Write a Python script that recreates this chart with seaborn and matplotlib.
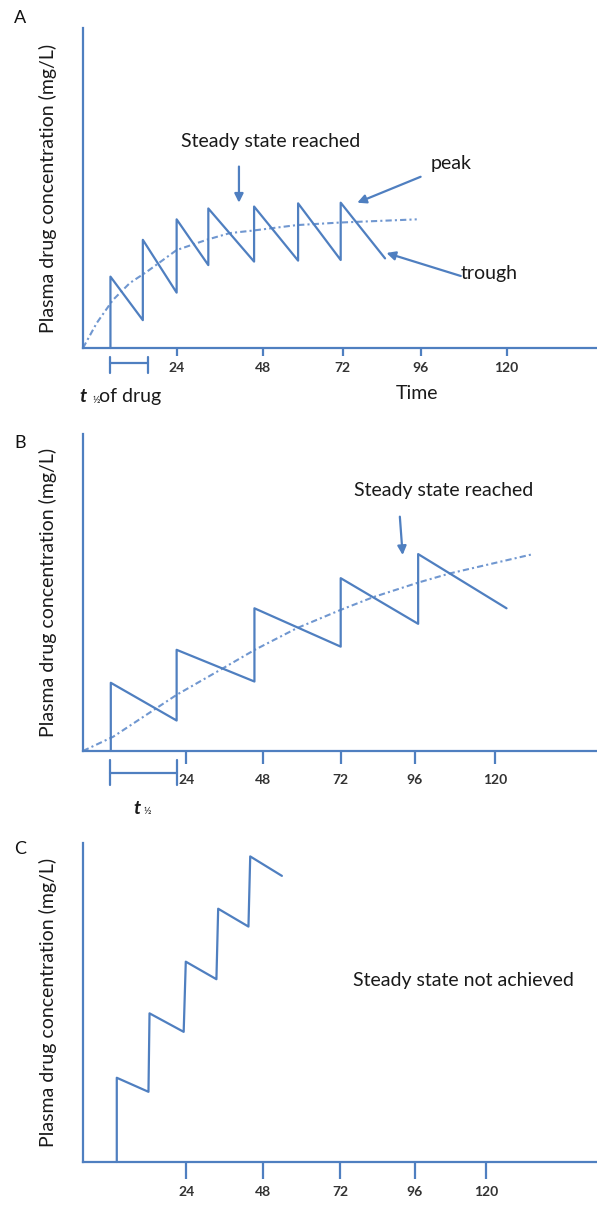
import matplotlib
matplotlib.use("Agg")
import matplotlib.pyplot as plt
import seaborn as sns

# x in hours (schematic), y in % of axis height
tick_labels = ["24", "48", "72", "96", "120"]

# A: dosing interval shorter than half-life -> steady state reached fast
a_ticks = [26.6, 51.0, 73.8, 95.9, 120.3]
a_saw_x = [7.8, 7.8, 17.0, 17.0, 26.6, 26.6, 35.6, 35.6, 48.6, 48.6, 61.1, 61.1, 73.2, 73.2, 85.8]
a_saw_y = [0, 22.3, 8.7, 33.8, 17.3, 40.2, 25.9, 43.6, 27.0, 44.2, 27.3, 45.2, 27.5, 45.4, 28.0]
a_avg_x = [0, 3.9, 8.5, 13.3, 18.1, 26.6, 35.1, 41.7, 48.3, 60.7, 73.0, 94.8]
a_avg_y = [0, 7.8, 15.0, 20.3, 23.8, 30.6, 33.8, 35.9, 36.7, 38.4, 39.2, 40.2]

# B: dosing interval equal to half-life
b_ticks = [29.4, 51.0, 73.2, 94.3, 117.0]
b_saw_x = [7.9, 7.9, 26.6, 26.6, 48.7, 48.7, 73.2, 73.2, 95.2, 95.2, 120.3]
b_saw_y = [0, 21.5, 9.6, 31.9, 21.9, 45.0, 32.9, 54.5, 40.1, 62.1, 45.0]
b_avg_x = [0, 8.6, 26.6, 39.8, 48.8, 60.7, 73.2, 82.4, 95.2, 104.2, 127.9]
b_avg_y = [0, 4.5, 17.7, 26.1, 31.9, 38.7, 44.5, 48.5, 53.1, 56.0, 62.1]

# C: long half-life, no steady state
c_ticks = [29.4, 51.0, 73.0, 94.3, 114.6]
c_saw_x = [9.6, 9.6, 18.6, 18.9, 28.6, 29.2, 37.9, 38.4, 47.0, 47.5, 56.5]
c_saw_y = [0, 26.4, 22.0, 46.6, 40.8, 62.8, 57.3, 79.4, 73.8, 95.8, 89.7]

BLUE = "#4f7fc0"
LIGHT = "#7097d0"
TXT = "#1a1a1a"
FS = 14

sns.set_theme(style="white")
plt.rcParams["font.family"] = ["Lato", "DejaVu Sans"]

fig = plt.figure(figsize=(5.97, 12.05), dpi=100)
axA = fig.add_axes([0.139, 0.7112, 0.861, 0.2656])
axB = fig.add_axes([0.139, 0.3768, 0.861, 0.2631])
axC = fig.add_axes([0.139, 0.0357, 0.861, 0.2647])


def style_axis(ax, ticks, tick_len, pad):
    ax.set_xlim(0, 146)
    ax.set_ylim(0, 100)
    sns.despine(ax=ax)
    for s in ["left", "bottom"]:
        ax.spines[s].set_color(BLUE)
        ax.spines[s].set_linewidth(1.6)
    ax.set_yticks([])
    ax.set_xticks(ticks)
    ax.set_xticklabels(tick_labels, fontsize=10, fontweight="bold", color="#333333")
    ax.tick_params(axis="x", direction="out", length=tick_len, width=1.6,
                   color=BLUE, pad=pad, bottom=True)
    ax.set_xlabel("")
    ax.set_ylabel("Plasma drug concentration (mg/L)", fontsize=FS, color=TXT)
    ax.yaxis.set_label_coords(-0.05, 0.5)


def saw(ax, x, y):
    sns.lineplot(x=x, y=y, ax=ax, sort=False, estimator=None, color=BLUE,
                 linewidth=1.6, clip_on=False)


def avg(ax, x, y):
    sns.lineplot(x=x, y=y, ax=ax, sort=False, estimator=None, color=LIGHT,
                 linewidth=1.5, dashes=False, clip_on=False)
    ax.lines[-1].set_dashes([3, 1.5, 1, 1.5])


def arrow(ax, start, end):
    ax.annotate("", xy=end, xytext=start,
                arrowprops=dict(arrowstyle="-|>", color=BLUE, lw=1.6,
                                mutation_scale=13, shrinkA=0, shrinkB=0))


def bracket(ax, x0, x1, y, y_lo, y_hi):
    for xs, ys in [([x0, x1], [y, y]), ([x0, x0], [y_lo, y_hi]), ([x1, x1], [y_lo, y_hi])]:
        ax.plot(xs, ys, color=BLUE, lw=1.6, clip_on=False)


# ---- A ----
avg(axA, a_avg_x, a_avg_y)
saw(axA, a_saw_x, a_saw_y)
style_axis(axA, a_ticks, 6, 4)
axA.text(53.2, 64.5, "Steady state reached", ha="center", va="center", fontsize=FS, color=TXT)
axA.text(104.6, 57.7, "peak", ha="center", va="center", fontsize=FS, color=TXT)
axA.text(115.4, 23.3, "trough", ha="center", va="center", fontsize=FS, color=TXT)
arrow(axA, (44.3, 56.7), (44.3, 45.4))
arrow(axA, (95.9, 53.5), (77.9, 45.4))
arrow(axA, (107.3, 22.5), (86.2, 29.7))
bracket(axA, 7.7, 18.5, -4.8, -2.7, -7.9)
axA.text(-0.9, -15.2, "t", ha="left", va="center", fontsize=FS, fontstyle="italic",
         fontweight="bold", color=TXT, clip_on=False)
axA.text(2.6, -16.3, "½", ha="left", va="center", fontsize=7.5, color=TXT, clip_on=False)
axA.text(4.6, -15.2, "of drug", ha="left", va="center", fontsize=FS, color=TXT, clip_on=False)
axA.text(94.8, -14.1, "Time", ha="center", va="center", fontsize=FS, color=TXT, clip_on=False)

# ---- B ----
avg(axB, b_avg_x, b_avg_y)
saw(axB, b_saw_x, b_saw_y)
style_axis(axB, b_ticks, 9.5, 7)
axB.text(102.4, 82.1, "Steady state reached", ha="center", va="center", fontsize=FS, color=TXT)
arrow(axB, (90.0, 73.9), (90.8, 61.8))
bracket(axB, 7.8, 26.7, -7.0, -2.8, -10.7)
axB.text(15.2, -18.1, "t", ha="center", va="center", fontsize=FS, fontstyle="italic",
         fontweight="bold", color=TXT, clip_on=False)
axB.text(17.3, -19.0, "½", ha="left", va="center", fontsize=7.5, color=TXT, clip_on=False)

# ---- C ----
saw(axC, c_saw_x, c_saw_y)
style_axis(axC, c_ticks, 12, 5)
axC.text(108.2, 56.9, "Steady state not achieved", ha="center", va="center", fontsize=FS, color=TXT)

for lab, y in [("A", 18), ("B", 443), ("C", 849)]:
    fig.text(20 / 597, 1 - y / 1205, lab, ha="center", va="center", fontsize=13, color="#111111")

fig.savefig("out.png", dpi=100)
